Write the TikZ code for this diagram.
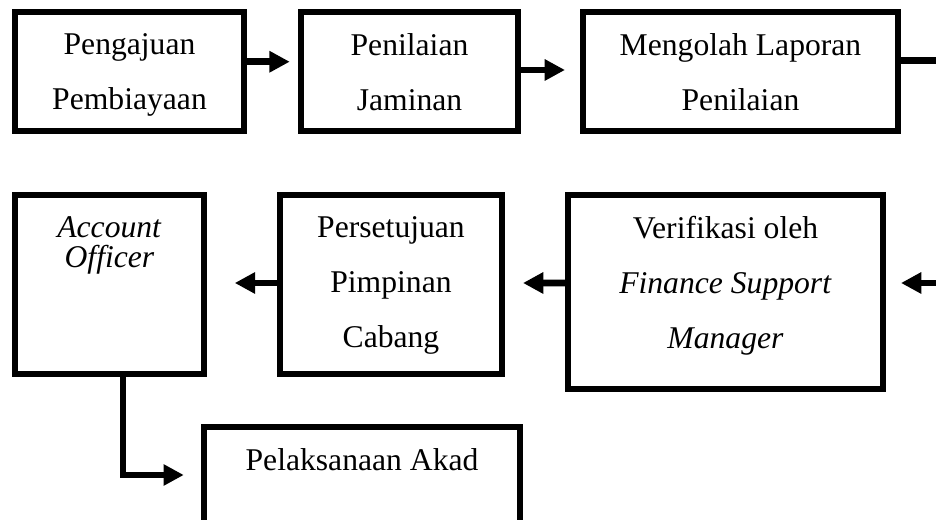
\documentclass[tikz,border=0pt]{standalone}
\usepackage{fontspec}
\setmainfont{Liberation Serif}
\usetikzlibrary{positioning,arrows.meta}

\begin{document}
\begin{tikzpicture}
[boxDecorate/.style={shape=rectangle,draw,line width=2.3pt,inner sep=0pt},%
  textDecorate/.style={align=center,inner sep=0pt},%
  flowDecorate/.style={line width=2.6pt,-{Triangle[length=2.7mm,width=2.7mm]}},%
  lineDecorate/.style={line width=2.6pt}]
\useasboundingbox (0,0) rectangle (12.48,-6.933);
\clip (0,0) rectangle (12.48,-6.933);
%% boxes
\foreach \nodename/\x/\y/\w/\h in {
  ajuan/1.727/-0.953/3.053/1.587, nilai/5.46/-0.953/2.893/1.587,
  olah/9.873/-0.953/4.2/1.587, ao/1.46/-3.793/2.52/2.387,
  setuju/5.213/-3.793/2.96/2.387, verif/9.673/-3.893/4.2/2.587,
  akad/4.827/-6.333/4.213/1.28}
{
  \node (\nodename) at (\x,\y) [boxDecorate,minimum width=\w cm,minimum height=\h cm] {};
}
%% texts
\foreach \nodename/\content/\spacing in {
  ajuan/{Pengajuan\\Pembiayaan}/20.9, nilai/{Penilaian\\Jaminan}/20.9,
  olah/{Mengolah Laporan\\Penilaian}/20.9, ao/{\textit{Account}\\\textit{Officer}}/11.4,
  setuju/{Persetujuan\\Pimpinan\\Cabang}/20.9,
  verif/{Verifikasi oleh\\\textit{Finance Support}\\\textit{Manager}}/20.9,
  akad/{Pelaksanaan Akad}/20.9}
{
  \node (\nodename-text) [textDecorate,below=3.2mm of \nodename.north,
    font=\fontsize{12}{\spacing}\selectfont] {\content};
}
%% arrows
\draw[flowDecorate] ([yshift=1.3mm]ajuan.east) -- ([xshift=-1.1mm,yshift=1.3mm]nilai.west);
\draw[flowDecorate] ([yshift=0.2mm]nilai.east) -- ([xshift=-2mm,yshift=0.2mm]olah.west);
\coordinate (olahOut) at ([xshift=2cm,yshift=1.5mm]olah.east);
\draw[lineDecorate] ([yshift=1.5mm]olah.east) -- (olahOut);
\coordinate (verifIn) at ([xshift=2cm,yshift=1.2mm]verif.east);
\draw[flowDecorate] (verifIn) -- ([xshift=2mm,yshift=1.2mm]verif.east);
\draw[flowDecorate] ([yshift=1.2mm]verif.west) -- ([xshift=2.4mm,yshift=0.2mm]setuju.east);
\draw[flowDecorate] ([yshift=0.2mm]setuju.west) -- ([xshift=3.7mm,yshift=0.2mm]ao.east);
\draw[flowDecorate] ([xshift=1.8mm]ao.south) |- ([xshift=-2.3mm]akad.west);
\end{tikzpicture}
\end{document}
